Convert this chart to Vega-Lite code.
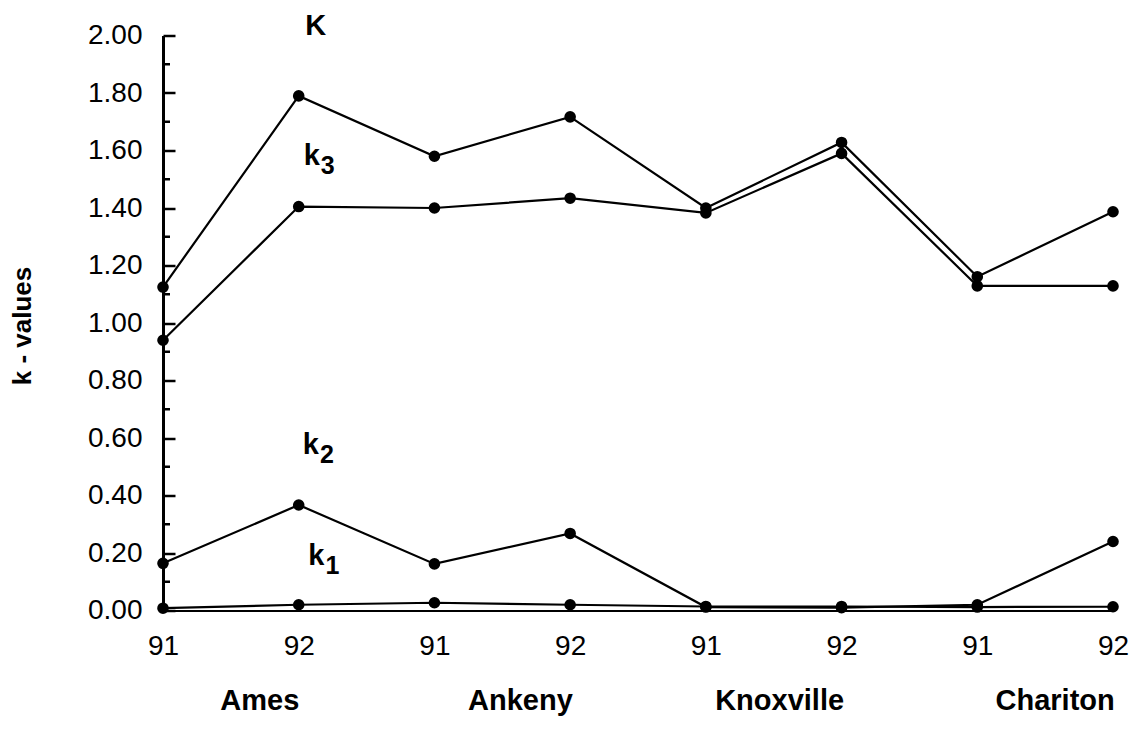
{
  "$schema": "https://vega.github.io/schema/vega-lite/v6.json",
  "width": 950,
  "height": 575,
  "autosize": {"type": "none"},
  "padding": {"left": 163, "top": 35.5, "right": 31, "bottom": 121.5},
  "background": "white",
  "config": {
    "view": {"stroke": null},
    "font": "Liberation Sans",
    "axis": {"labelFont": "Liberation Sans", "titleFont": "Liberation Sans", "labelColor": "black", "titleColor": "black", "domainColor": "black", "tickColor": "black", "grid": false}
  },
  "datasets": {
    "series": [
      {"series": "K", "i": 0, "v": 1.125},
      {"series": "K", "i": 1, "v": 1.79},
      {"series": "K", "i": 2, "v": 1.58},
      {"series": "K", "i": 3, "v": 1.717},
      {"series": "K", "i": 4, "v": 1.40},
      {"series": "K", "i": 5, "v": 1.628},
      {"series": "K", "i": 6, "v": 1.161},
      {"series": "K", "i": 7, "v": 1.387},
      {"series": "k3", "i": 0, "v": 0.94},
      {"series": "k3", "i": 1, "v": 1.405},
      {"series": "k3", "i": 2, "v": 1.40},
      {"series": "k3", "i": 3, "v": 1.434},
      {"series": "k3", "i": 4, "v": 1.383},
      {"series": "k3", "i": 5, "v": 1.59},
      {"series": "k3", "i": 6, "v": 1.129},
      {"series": "k3", "i": 7, "v": 1.129},
      {"series": "k2", "i": 0, "v": 0.164},
      {"series": "k2", "i": 1, "v": 0.367},
      {"series": "k2", "i": 2, "v": 0.162},
      {"series": "k2", "i": 3, "v": 0.268},
      {"series": "k2", "i": 4, "v": 0.012},
      {"series": "k2", "i": 5, "v": 0.01},
      {"series": "k2", "i": 6, "v": 0.02},
      {"series": "k2", "i": 7, "v": 0.24},
      {"series": "k1", "i": 0, "v": 0.008},
      {"series": "k1", "i": 1, "v": 0.02},
      {"series": "k1", "i": 2, "v": 0.027},
      {"series": "k1", "i": 3, "v": 0.02},
      {"series": "k1", "i": 4, "v": 0.014},
      {"series": "k1", "i": 5, "v": 0.014},
      {"series": "k1", "i": 6, "v": 0.012},
      {"series": "k1", "i": 7, "v": 0.013}
    ],
    "labels": [
      {"main": "K", "sub": "", "tx": 1.125, "v": 2.003},
      {"main": "k", "sub": "3", "tx": 1.096, "v": 1.548},
      {"main": "k", "sub": "2", "tx": 1.09, "v": 0.543},
      {"main": "k", "sub": "1", "tx": 1.13, "v": 0.16}
    ],
    "minor": [
      {"v": 0.1}, {"v": 0.3}, {"v": 0.5}, {"v": 0.7}, {"v": 0.9},
      {"v": 1.1}, {"v": 1.3}, {"v": 1.5}, {"v": 1.7}, {"v": 1.9}
    ]
  },
  "resolve": {"axis": {"x": "independent"}},
  "layer": [
    {
      "data": {"name": "series"},
      "mark": {"type": "line", "color": "black", "strokeWidth": 2.2},
      "encoding": {
        "x": {
          "field": "i", "type": "quantitative",
          "scale": {"domain": [0, 7], "nice": false, "zero": false},
          "axis": {
            "title": null,
            "values": [0, 1, 2, 3, 4, 5, 6, 7],
            "labelExpr": "datum.value % 2 == 0 ? '91' : '92'",
            "ticks": false,
            "domain": true,
            "domainWidth": 2,
            "labelFontSize": 28,
            "labelPadding": 22,
            "labelFlush": false,
            "labelOverlap": false,
            "labelBound": false
          }
        },
        "y": {
          "field": "v", "type": "quantitative",
          "scale": {"domain": [0, 2], "nice": false},
          "axis": {
            "title": "k - values",
            "titleFontSize": 26,
            "titleFontWeight": "bold",
            "titleAngle": -90,
            "titleX": -141,
            "titleY": 290,
            "titleAlign": "center",
            "titleBaseline": "middle",
            "values": [0, 0.2, 0.4, 0.6, 0.8, 1.0, 1.2, 1.4, 1.6, 1.8, 2.0],
            "format": ".2f",
            "tickSize": -12,
            "tickWidth": 2.5,
            "domainWidth": 3,
            "labelFontSize": 28,
            "labelPadding": 33,
            "labelOverlap": false,
            "labelBound": false,
            "labelFlush": false
          }
        },
        "detail": {"field": "series"}
      }
    },
    {
      "data": {"name": "minor"},
      "mark": {"type": "tick", "orient": "horizontal", "color": "black", "size": 7, "thickness": 2.5, "xOffset": 3.5, "opacity": 1},
      "encoding": {
        "x": {"datum": 0, "type": "quantitative", "axis": null},
        "y": {"field": "v", "type": "quantitative"}
      }
    },
    {
      "data": {"name": "series"},
      "mark": {"type": "point", "filled": true, "color": "black", "size": 135, "opacity": 1},
      "encoding": {
        "x": {
          "field": "i", "type": "quantitative",
          "axis": {
            "orient": "bottom",
            "title": null,
            "values": [0.71, 2.63, 4.54, 6.57],
            "labelExpr": "datum.value < 1.5 ? 'Ames' : datum.value < 3.5 ? 'Ankeny' : datum.value < 5.5 ? 'Knoxville' : 'Chariton'",
            "domain": false,
            "ticks": false,
            "labelFontSize": 29,
            "labelFontWeight": "bold",
            "labelPadding": 76,
            "labelFlush": false,
            "labelOverlap": false,
            "labelBound": false
          }
        },
        "y": {"field": "v", "type": "quantitative"}
      }
    },
    {
      "data": {"name": "labels"},
      "mark": {"type": "text", "color": "black", "fontSize": 29, "fontWeight": "bold", "align": "center", "baseline": "alphabetic"},
      "encoding": {
        "x": {"field": "tx", "type": "quantitative", "axis": null},
        "y": {"field": "v", "type": "quantitative"},
        "text": {"field": "main"}
      }
    },
    {
      "data": {"name": "labels"},
      "mark": {"type": "text", "color": "black", "fontSize": 25, "fontWeight": "bold", "align": "center", "baseline": "alphabetic", "dx": 16, "dy": 9},
      "encoding": {
        "x": {"field": "tx", "type": "quantitative", "axis": null},
        "y": {"field": "v", "type": "quantitative"},
        "text": {"field": "sub"}
      }
    }
  ]
}
